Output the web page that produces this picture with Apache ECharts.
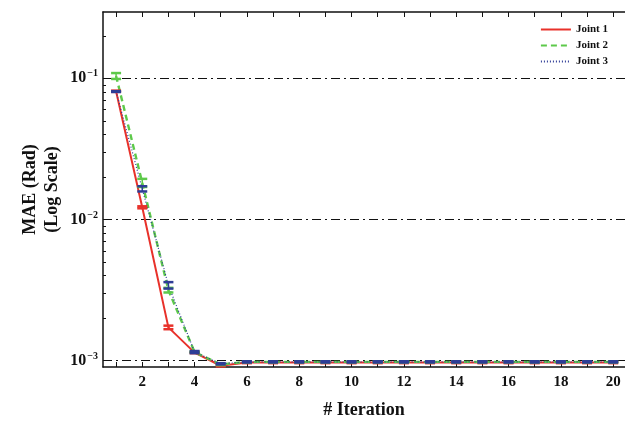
<!DOCTYPE html>
<html>
<head>
<meta charset="utf-8">
<script src="https://cdn.jsdelivr.net/npm/echarts@6/dist/echarts.min.js"></script>
<style>html,body{margin:0;padding:0;background:#fff}#c{width:625px;height:425px}</style>
</head>
<body>
<div id="c"></div>
<script>
// ---- data ----
var iterations = [1,2,3,4,5,6,7,8,9,10,11,12,13,14,15,16,17,18,19,20];
var seriesNames = ['Joint 1', 'Joint 2', 'Joint 3'];
var joint1Mean = [0.081, 0.0122, 0.00172, 0.00114, 0.00092, 0.00097, 0.00097, 0.00097, 0.00097, 0.00097, 0.00097, 0.00097, 0.00097, 0.00097, 0.00097, 0.00097, 0.00097, 0.00097, 0.00097, 0.00097];
var joint1Err  = [0.0008, 0.0002, 0.00005, 0.00001, 0.00001, 0.00001, 0.00001, 0.00001, 0.00001, 0.00001, 0.00001, 0.00001, 0.00001, 0.00001, 0.00001, 0.00001, 0.00001, 0.00001, 0.00001, 0.00001];
var joint2Mean = [0.104, 0.0182, 0.00316, 0.00115, 0.00094, 0.00098, 0.00098, 0.00098, 0.00098, 0.00098, 0.00098, 0.00098, 0.00098, 0.00098, 0.00098, 0.00098, 0.00098, 0.00098, 0.00098, 0.00098];
var joint2Err  = [0.005, 0.0012, 0.00012, 0.00001, 0.00001, 0.00001, 0.00001, 0.00001, 0.00001, 0.00001, 0.00001, 0.00001, 0.00001, 0.00001, 0.00001, 0.00001, 0.00001, 0.00001, 0.00001, 0.00001];
var joint3Mean = [0.0806, 0.0165, 0.00342, 0.00115, 0.00095, 0.00098, 0.00098, 0.00098, 0.00098, 0.00098, 0.00098, 0.00098, 0.00098, 0.00098, 0.00098, 0.00098, 0.00098, 0.00098, 0.00098, 0.00098];
var joint3Err  = [0.0005, 0.0007, 0.00018, 0.00002, 0.00001, 0.00001, 0.00001, 0.00001, 0.00001, 0.00001, 0.00001, 0.00001, 0.00001, 0.00001, 0.00001, 0.00001, 0.00001, 0.00001, 0.00001, 0.00001];
var xTickLabels = [2,4,6,8,10,12,14,16,18,20];
var yMajorExp = [-3, -2, -1];

var colors = ['#e8312a', '#5dc94a', '#2e3d96'];
var font = '"Liberation Serif", "Times New Roman", serif';

var L = Math.log10;
var yMin = -3.045, yMax = -0.53;
var minorVals = [];
yMajorExp.forEach(function (e) { for (var k = 2; k <= 9; k++) { var v = L(k) + e - 1; if (v > yMin && v < yMax) minorVals.push(v); } });
for (var k = 2; k <= 9; k++) { var v = L(k) - 1; if (v < yMax) minorVals.push(v); }

function lineData(mean) { return iterations.map(function (x, i) { return [x, L(mean[i])]; }); }
function errData(mean, err) { return iterations.map(function (x, i) { return [x, L(mean[i] - err[i]), L(mean[i] + err[i])]; }); }

var means = [joint1Mean, joint2Mean, joint3Mean];
var errs = [joint1Err, joint2Err, joint3Err];
var lineTypes = ['solid', [6, 4], [1, 2]];
var lineWidths = [2, 2.4, 1.2];

var series = [];
for (var s = 0; s < 3; s++) {
  series.push({
    name: seriesNames[s], type: 'line', data: lineData(means[s]), symbol: 'none',
    lineStyle: { color: colors[s], width: lineWidths[s], type: lineTypes[s] },
    itemStyle: { color: colors[s] }, color: colors[s], z: 3 + s
  });
}
for (var s2 = 0; s2 < 3; s2++) {
  (function (si) {
    series.push({
      type: 'custom', data: errData(means[si], errs[si]), z: 6 + si, silent: true,
      renderItem: function (params, api) {
        var x = api.value(0);
        var lo = api.coord([x, api.value(1)]);
        var hi = api.coord([x, api.value(2)]);
        var hw = 5;
        var st = { stroke: colors[si], lineWidth: 2.5 };
        return { type: 'group', children: [
          { type: 'line', shape: { x1: lo[0], y1: lo[1], x2: hi[0], y2: hi[1] }, style: { stroke: colors[si], lineWidth: 1.5 } },
          { type: 'line', shape: { x1: lo[0] - hw, y1: lo[1], x2: lo[0] + hw, y2: lo[1] }, style: st },
          { type: 'line', shape: { x1: hi[0] - hw, y1: hi[1], x2: hi[0] + hw, y2: hi[1] }, style: st }
        ]};
      },
      encode: { x: 0, y: [1, 2] }
    });
  })(s2);
}

var chart = echarts.init(document.getElementById('c'), null, { renderer: 'canvas' });
chart.setOption({
  animation: false,
  backgroundColor: '#fff',
  color: colors,
  grid: { left: 103, right: 0, top: 12, bottom: 58 },
  legend: {
    data: seriesNames, orient: 'vertical', right: 12, top: 19, itemGap: 5,
    itemWidth: 30, itemHeight: 11,
    itemStyle: { opacity: 0 },
    textStyle: { fontFamily: font, fontWeight: 'bold', fontSize: 11, color: '#111' }
  },
  xAxis: [{
    type: 'value', min: 0.5, max: 20.45,
    name: '# Iteration', nameLocation: 'middle', nameGap: 34, nameMoveOverlap: false,
    nameTextStyle: { fontFamily: font, fontWeight: 'bold', fontSize: 18, color: '#111' },
    axisLine: { lineStyle: { color: '#111', width: 1.5 } },
    axisTick: { inside: true, length: 5, customValues: iterations, lineStyle: { color: '#111' } },
    axisLabel: { customValues: xTickLabels, margin: 8, fontFamily: font, fontWeight: 'bold', fontSize: 15, color: '#111' },
    splitLine: { show: false }
  }, {
    type: 'value', min: 0.5, max: 20.45, position: 'top',
    axisLine: { lineStyle: { color: '#111', width: 1.5 } },
    axisTick: { inside: true, length: 5, customValues: iterations, lineStyle: { color: '#111' } },
    axisLabel: { show: false }, splitLine: { show: false }
  }],
  yAxis: [{
    type: 'value', min: yMin, max: yMax,
    name: 'MAE (Rad)\n(Log Scale)', nameLocation: 'middle', nameGap: 40, nameRotate: 90, nameMoveOverlap: false,
    nameTextStyle: { fontFamily: font, fontWeight: 'bold', fontSize: 18, color: '#111', lineHeight: 22 },
    axisLine: { lineStyle: { color: '#111', width: 1.5 } },
    axisTick: { inside: true, length: 6, customValues: yMajorExp, lineStyle: { color: '#111' } },
    axisLabel: {
      customValues: yMajorExp, margin: 5,
      formatter: function (v) { return '{b|10}{s|\u2212' + Math.round(-v) + '}'; },
      rich: {
        b: { fontFamily: font, fontWeight: 'bold', fontSize: 16, color: '#111' },
        s: { fontFamily: font, fontWeight: 'bold', fontSize: 10, color: '#111', padding: [0, 0, 9, 1] }
      }
    },
    splitLine: { show: true, lineStyle: { color: '#111', width: 1, type: [9, 4, 2, 4] } }
  }, {
    type: 'value', min: yMin, max: yMax, position: 'left',
    axisLine: { show: false },
    axisTick: { inside: true, length: 3, customValues: minorVals, lineStyle: { color: '#111' } },
    axisLabel: { show: false }, splitLine: { show: false }
  }],
  series: series
});
</script>
</body>
</html>
